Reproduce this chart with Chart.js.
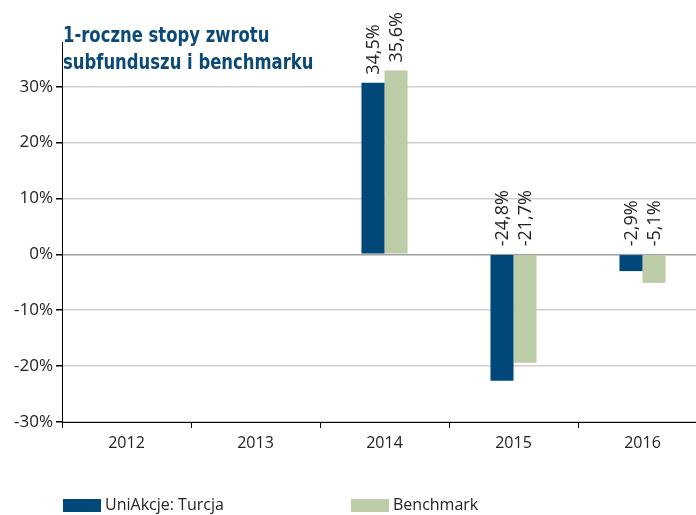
<!DOCTYPE html>
<html>
<head>
<meta charset="utf-8">
<script src="https://cdn.jsdelivr.net/npm/chart.js@4/dist/chart.umd.min.js"></script>
<style>
  html, body { margin: 0; padding: 0; background: #fff; overflow: hidden; width: 696px; height: 515px; }
  #wrap { position: relative; width: 696px; height: 515px; overflow: hidden; }
  #tytul {
    position: absolute; left: 63px; top: 22px;
    font-family: "DejaVu Sans Condensed", "DejaVu Sans", sans-serif;
    font-weight: bold; font-size: 21px; line-height: 27px; color: #0b4a78;
    transform: scaleX(0.87); transform-origin: left top; white-space: nowrap;
  }
  canvas { position: absolute; left: 0; top: 0; }
</style>
</head>
<body>
<div id="wrap">
  <canvas id="wykres" width="708" height="515"></canvas>
  <div id="tytul">1-roczne stopy zwrotu<br>subfunduszu i benchmarku</div>
</div>
<script>
// lata i wartosci (wysokosci slupkow)
const lata = ['2012', '2013', '2014', '2015', '2016'];
const funduszWartosci = [null, null, 30.7, -22.6, -3.0];
const benchmarkWartosci = [null, null, 32.9, -19.4, -5.1];
// podpisy nad slupkami
const funduszPodpisy = ['', '', '34,5%', '-24,8%', '-2,9%'];
const benchmarkPodpisy = ['', '', '35,6%', '-21,7%', '-5,1%'];
const osYTicki = [-30, -20, -10, 0, 10, 20, 30];
const nazwySerii = ['UniAkcje: Turcja', 'Benchmark'];

const kolorFundusz = '#00477a';
const kolorBenchmark = '#bccca7';
const czcionka = '"Open Sans", "DejaVu Sans", sans-serif';

// podpisy obrocone o 90 stopni
const podpisyPlugin = {
  id: 'podpisy',
  afterDatasetsDraw(chart) {
    const ctx = chart.ctx;
    const zero = chart.scales.y.getPixelForValue(0);
    const podpisy = [funduszPodpisy, benchmarkPodpisy];
    ctx.save();
    ctx.fillStyle = '#222';
    ctx.font = '18px ' + czcionka;
    chart.data.datasets.forEach((ds, i) => {
      chart.getDatasetMeta(i).data.forEach((bar, j) => {
        const txt = podpisy[i][j];
        if (!txt) return;
        const v = ds.data[j];
        const y = (v >= 0 ? bar.y : zero) - 8;
        ctx.save();
        ctx.translate(bar.x, y);
        ctx.rotate(-Math.PI / 2);
        ctx.textAlign = 'left';
        ctx.textBaseline = 'middle';
        ctx.fillText(txt, 0, 1);
        ctx.restore();
      });
    });
    ctx.restore();
  }
};

// legenda na dole po lewej
const legendaPlugin = {
  id: 'legendaDol',
  afterDraw(chart) {
    const ctx = chart.ctx;
    const pozycje = [63, 351];
    ctx.save();
    ctx.font = '16px ' + czcionka;
    ctx.textBaseline = 'middle';
    chart.data.datasets.forEach((ds, i) => {
      const x = pozycje[i];
      ctx.fillStyle = ds.backgroundColor;
      ctx.fillRect(x, 499, 38, 13);
      ctx.fillStyle = '#222';
      ctx.fillText(ds.label, x + 42, 505);
    });
    ctx.restore();
  }
};

new Chart(document.getElementById('wykres'), {
  type: 'bar',
  data: {
    labels: lata,
    datasets: [
      { label: nazwySerii[0], data: funduszWartosci, backgroundColor: kolorFundusz },
      { label: nazwySerii[1], data: benchmarkWartosci, backgroundColor: kolorBenchmark }
    ]
  },
  options: {
    responsive: false,
    animation: false,
    datasets: { bar: { categoryPercentage: 0.357, barPercentage: 1 } },
    layout: { padding: { top: 42, left: 0, right: 1, bottom: 0 } },
    plugins: {
      legend: { display: false },
      tooltip: { enabled: false },
      title: { display: false }
    },
    scales: {
      x: {
        afterFit(s) { s.height = 93; },
        grid: { drawOnChartArea: false, offset: true, tickLength: 6, tickColor: '#000', lineWidth: 1 },
        border: { color: '#000', width: 1 },
        ticks: { color: '#222', font: { family: czcionka, size: 16 }, padding: 6 }
      },
      y: {
        min: -30,
        max: 38,
        afterFit(s) { s.width = 62; },
        afterBuildTicks(s) { s.ticks = osYTicki.map(v => ({ value: v })); },
        grid: {
          color: ctx => ctx.tick && ctx.tick.value === 0 ? '#a0a0a0' : '#cfcfcf',
          lineWidth: 1.5,
          tickLength: 6,
          tickColor: '#000'
        },
        border: { color: '#000', width: 1 },
        ticks: {
          color: '#222',
          font: { family: czcionka, size: 17 },
          padding: 3,
          callback: v => v + '%'
        }
      }
    }
  },
  plugins: [podpisyPlugin, legendaPlugin]
});
</script>
</body>
</html>
